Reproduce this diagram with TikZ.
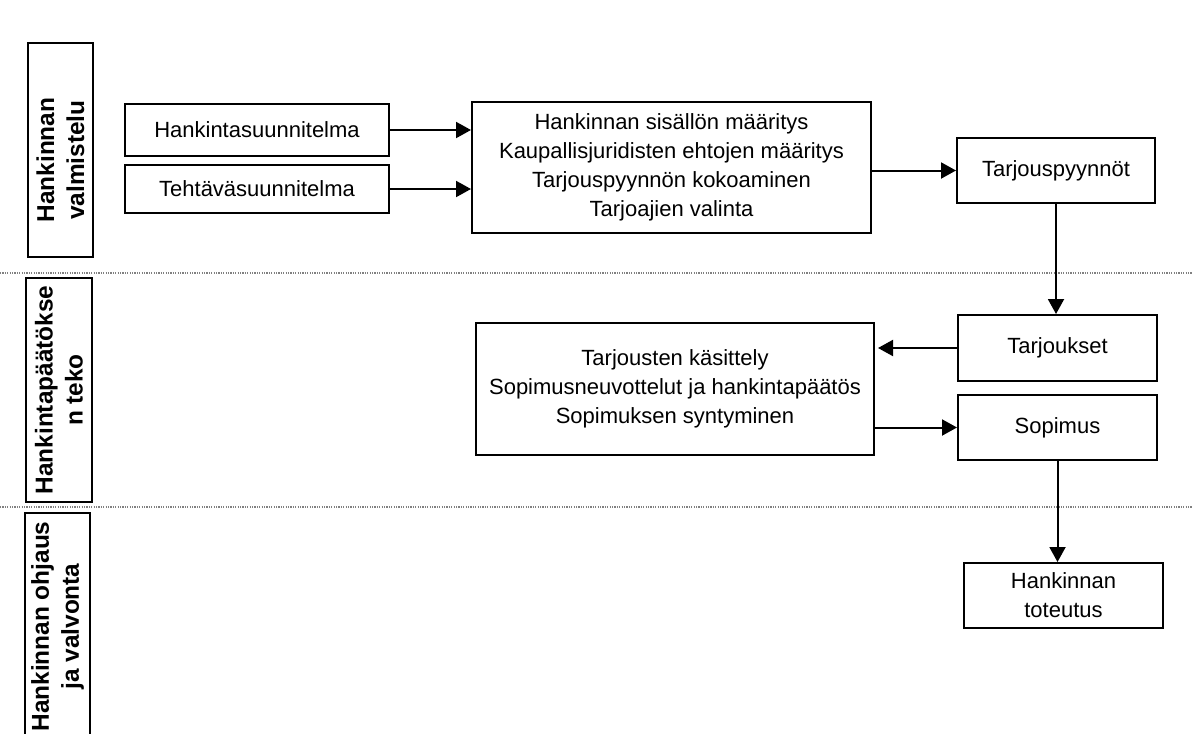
\documentclass[tikz,border=0pt]{standalone}
\usepackage{fontspec}
\setmainfont{Liberation Sans}
\usetikzlibrary{arrows.meta}

\begin{document}
\begin{tikzpicture}[x=0.5pt,y=-0.5pt,
    laatikko/.style={draw,line width=1pt,inner sep=0pt,align=center,
      font=\fontsize{11}{14.5}\selectfont},
    vaihe/.style={draw,line width=1pt,inner sep=0pt,align=center,rotate=90,
      font=\fontsize{12.2}{15}\selectfont\bfseries},
    nuoli/.style={line width=1pt,-{Triangle[length=7.5pt,width=8pt]}},
    raja/.style={gray,line width=0.8pt,dash pattern=on 0.6pt off 0.6pt}]
  \useasboundingbox (0,0) rectangle (1192,733);
  \clip (0,0) rectangle (1192,733);

  % vaiheet
  \node[vaihe,minimum width=107pt,minimum height=32.5pt] (valm) at (60.5,150)
    {Hankinnan\hspace*{10pt}\\valmistelu\hspace*{10pt}};
  \node[vaihe,minimum width=112pt,minimum height=33pt] (pts) at (59,390) {Hankintapäätökse\\n teko};
  \node[vaihe,minimum width=113.5pt,minimum height=32.5pt] (ohj) at (57.5,626.5) {Hankinnan ohjaus\\ja valvonta};
  \draw[raja] (0,273) -- (1192,273);
  \draw[raja] (0,507) -- (1192,507);

  % valmistelu
  \node[laatikko,minimum width=132pt,minimum height=26pt] (hs) at (257,130) {Hankintasuunnitelma};
  \node[laatikko,minimum width=132pt,minimum height=24pt] (ts) at (257,189) {Tehtäväsuunnitelma};
  \node[laatikko,minimum width=199.5pt,minimum height=65.5pt] (maar) at (671.5,167.5)
    {Hankinnan sisällön määritys\\Kaupallisjuridisten ehtojen määritys\\Tarjouspyynnön kokoaminen\\Tarjoajien valinta};
  \node[laatikko,minimum width=99pt,minimum height=32.5pt] (tp) at (1056,170.5) {Tarjouspyynnöt};

  % paatos
  \node[laatikko,minimum width=99.5pt,minimum height=33pt] (tk) at (1057.5,348) {Tarjoukset};
  \node[laatikko,minimum width=99.5pt,minimum height=32.5pt] (sop) at (1057.5,427.5) {Sopimus};
  \node[laatikko,minimum width=199pt,minimum height=66pt] (kas) at (675,389)
    {Tarjousten käsittely\\Sopimusneuvottelut ja hankintapäätös\\Sopimuksen syntyminen};

  % ohjaus
  \node[laatikko,minimum width=99.5pt,minimum height=32.5pt] (tot) at (1063.5,595.5) {Hankinnan\\toteutus};

  \draw[nuoli] (hs.east) -- (hs.east -| maar.west);
  \draw[nuoli] (ts.east) -- (ts.east -| maar.west);
  \draw[nuoli] (maar.east |- tp.west) -- (tp.west);
  \draw[nuoli] (tp.south) -- (tp.south |- tk.north);
  \draw[nuoli,shorten >=1.5pt] (tk.west) -- (tk.west -| kas.east);
  \draw[nuoli] (kas.east |- sop.west) -- (sop.west);
  \draw[nuoli] (sop.south) -- (sop.south |- tot.north);
\end{tikzpicture}
\end{document}
